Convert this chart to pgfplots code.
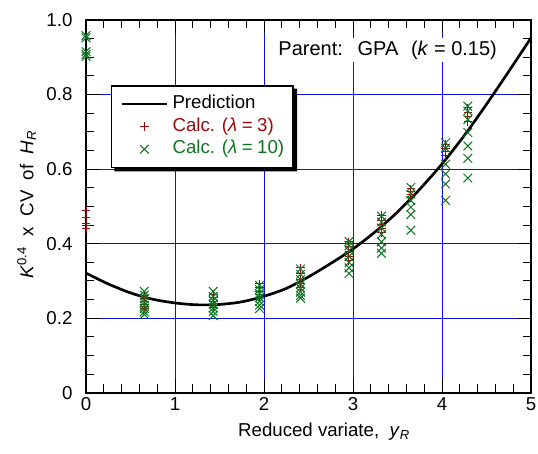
\documentclass[border=0pt]{standalone}
\usepackage{fontspec}
\setmainfont{Liberation Sans}
\usepackage{pgfplots}
\pgfplotsset{compat=1.18}

\definecolor{gridblue}{RGB}{15,15,225}
\definecolor{calcred}{RGB}{155,10,10}
\definecolor{calcgreen}{RGB}{15,115,35}

% Predicted K^0.4 x CV of H_R against the reduced variate
\pgfplotstableread{
x     y
0.00  0.321
0.25  0.292
0.50  0.268
0.75  0.251
1.00  0.241
1.25  0.236
1.50  0.237
1.75  0.244
2.00  0.259
2.25  0.280
2.50  0.311
2.75  0.347
3.00  0.386
3.25  0.432
3.50  0.485
3.75  0.546
4.00  0.614
4.25  0.690
4.50  0.774
4.75  0.862
5.00  0.952
}\prediction

% Calculated values, lambda = 3
\pgfplotstableread{
x      y
0      0.490
0      0.470
0      0.455
0      0.450
0      0.440
0.655  0.262
0.655  0.252
0.655  0.245
0.655  0.238
0.655  0.232
0.655  0.226
1.43   0.265
1.43   0.255
1.43   0.246
1.43   0.238
1.43   0.230
1.95   0.292
1.95   0.282
1.95   0.272
1.95   0.263
1.95   0.255
2.41   0.335
2.41   0.320
2.41   0.305
2.41   0.292
2.41   0.282
2.955  0.405
2.955  0.392
2.955  0.378
2.955  0.366
2.955  0.355
3.32   0.476
3.32   0.462
3.32   0.452
3.32   0.440
3.32   0.430
3.65   0.547
3.65   0.540
3.65   0.532
3.65   0.524
4.04   0.667
4.04   0.655
4.04   0.646
4.04   0.636
4.29   0.764
4.29   0.752
4.29   0.740
4.29   0.728
}\calcthree

% Calculated values, lambda = 10
\pgfplotstableread{
x      y
0      0.958
0      0.952
0      0.915
0      0.908
0      0.902
0.655  0.272
0.655  0.262
0.655  0.252
0.655  0.243
0.655  0.235
0.655  0.226
0.655  0.217
0.655  0.210
1.43   0.272
1.43   0.258
1.43   0.248
1.43   0.238
1.43   0.228
1.43   0.218
1.43   0.207
1.95   0.288
1.95   0.277
1.95   0.266
1.95   0.255
1.95   0.245
1.95   0.235
1.95   0.226
2.41   0.332
2.41   0.318
2.41   0.304
2.41   0.292
2.41   0.281
2.41   0.270
2.41   0.261
2.41   0.254
2.955  0.406
2.955  0.394
2.955  0.381
2.955  0.366
2.955  0.350
2.955  0.335
2.955  0.320
3.32   0.474
3.32   0.458
3.32   0.442
3.32   0.425
3.32   0.405
3.32   0.388
3.32   0.374
3.65   0.551
3.65   0.533
3.65   0.516
3.65   0.498
3.65   0.478
3.65   0.436
4.04   0.671
4.04   0.656
4.04   0.613
4.04   0.587
4.04   0.560
4.04   0.516
4.29   0.769
4.29   0.756
4.29   0.733
4.29   0.698
4.29   0.662
4.29   0.629
4.29   0.576
}\calcten

\begin{document}
\begin{tikzpicture}[font=\fontsize{14}{16.8}\selectfont]
\begin{axis}[
  at={(0,0)}, anchor=south west,
  scale only axis,
  width=333.75pt, height=279.6pt,
  xmin=0, xmax=5, ymin=0, ymax=1,
  xtick={0,1,2,3,4,5},
  ytick={0,0.2,0.4,0.6,0.8,1.0},
  yticklabels={0,0.2,0.4,0.6,0.8,1.0},
  minor x tick num=4,
  minor y tick num=3,
  tick align=inside,
  major tick length=10pt,
  minor tick length=6.3pt,
  tick style={black, line width=0.75pt},
  axis line style={line width=1.4pt},
  /pgf/number format/assume math mode=true,
  xticklabel style={inner ysep=3.4pt},
  yticklabel style={inner xsep=10pt},
  grid=major,
  major grid style={gridblue, line width=0.75pt},
  xlabel={Reduced variate,\ \ \textit{y}\textsubscript{\textit{R}}},
  xlabel style={at={(axis description cs:0.535,-0.1168)}, anchor=base},
  ylabel={\textit{K}\textsuperscript{0.4}\ \ x\ \ CV\ \ of\ \ \textit{H}\textsubscript{\textit{R}}},
  ylabel style={at={(axis description cs:-0.1184,0.505)}, anchor=base},
  legend cell align=left,
  legend image code/.code={
    \draw[mark repeat=2, mark phase=2, #1]
      plot coordinates {(0cm,0cm) (0.6cm,0cm) (1.2cm,0cm)};
  },
  legend style={
    name=legbox,
    at={(axis description cs:0.0562,0.825)}, anchor=north west,
    draw=black, line width=1pt, fill=white,
    inner xsep=6.5pt, inner ysep=7pt,
    row sep=4pt, column sep=3pt,
    nodes={inner sep=0pt, text height=10pt, text depth=3pt, anchor=west},
  },
]
\addplot[black, line width=2pt, smooth] table[x=x, y=y] {\prediction};
\addlegendentry{Prediction}
\addplot[only marks, mark=+, mark size=3.2pt, calcred, line width=0.75pt] table[x=x, y=y] {\calcthree};
\addlegendentry{\textcolor{calcred}{Calc. (\textit{λ}\hspace{0.24em}=\hspace{0.24em}3)}}
\addplot[only marks, mark=x, mark size=4.6pt, calcgreen, line width=0.75pt] table[x=x, y=y] {\calcten};
\addlegendentry{\textcolor{calcgreen}{Calc. (\textit{λ}\hspace{0.24em}=\hspace{0.24em}10)}}

\node[anchor=east, fill=white, inner sep=2pt, font=\fontsize{15}{18}\selectfont]
  at (axis cs:4.65,0.919)
  {Parent:\hspace{11pt}GPA\hspace{9.5pt}(\textit{k} = 0.15)};
\end{axis}
% offset shadow along the right and bottom edges of the legend box
\fill[black]
  ([yshift=-2.6pt]legbox.north east) -- ++(2.6pt,0)
  -- ([xshift=2.6pt,yshift=-2.6pt]legbox.south east)
  -- ([xshift=2.6pt,yshift=-2.6pt]legbox.south west)
  -- ([xshift=2.6pt]legbox.south west)
  -- (legbox.south east) -- cycle;
\pgfresetboundingbox
\path (-64.5pt,-45.15pt) rectangle (339pt,294.6pt);
\end{tikzpicture}
\end{document}
